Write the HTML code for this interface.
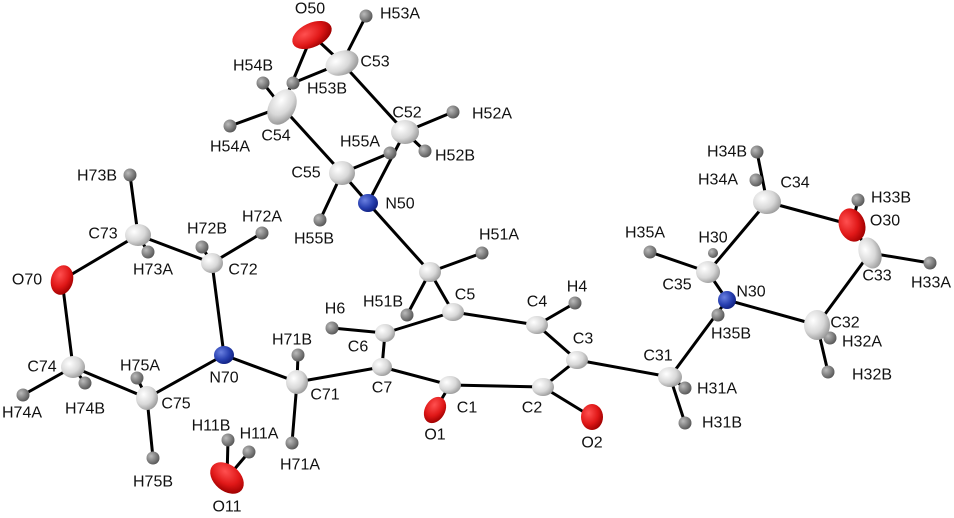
<!DOCTYPE html>
<html><head><meta charset="utf-8"><style>
html,body{margin:0;padding:0;background:#fff;}
svg{display:block;}
text{font-family:"Liberation Sans",sans-serif;font-size:16px;fill:#111;text-anchor:middle;dominant-baseline:central;}
</style></head><body>
<svg width="954" height="518" viewBox="0 0 954 518" xmlns="http://www.w3.org/2000/svg">
<defs>
<radialGradient id="gc" cx="35%" cy="35%" r="70%"><stop offset="0" stop-color="#ffffff"/><stop offset="0.6" stop-color="#d8d8d8"/><stop offset="1" stop-color="#9a9a9a"/></radialGradient>
<radialGradient id="gh" cx="35%" cy="35%" r="70%"><stop offset="0" stop-color="#bbbbbb"/><stop offset="1" stop-color="#555555"/></radialGradient>
<radialGradient id="go" cx="35%" cy="35%" r="70%"><stop offset="0" stop-color="#ff5050"/><stop offset="0.6" stop-color="#e01818"/><stop offset="1" stop-color="#a00000"/></radialGradient>
<radialGradient id="gn" cx="35%" cy="35%" r="70%"><stop offset="0" stop-color="#6a80e0"/><stop offset="0.6" stop-color="#2840b0"/><stop offset="1" stop-color="#102080"/></radialGradient>
</defs>
<g stroke="#000" stroke-width="3" stroke-linecap="round">
<line x1="282" y1="107" x2="312" y2="35"/>
<line x1="312" y1="35" x2="342" y2="63"/>
<line x1="342" y1="63" x2="366" y2="16"/>
<line x1="342" y1="63" x2="293" y2="83"/>
<line x1="282" y1="107" x2="263" y2="83"/>
<line x1="282" y1="107" x2="230" y2="126"/>
<line x1="282" y1="107" x2="342" y2="173"/>
<line x1="342" y1="63" x2="405" y2="132"/>
<line x1="405" y1="132" x2="453" y2="112"/>
<line x1="405" y1="132" x2="425" y2="151"/>
<line x1="405" y1="132" x2="368" y2="203"/>
<line x1="342" y1="173" x2="390" y2="153"/>
<line x1="342" y1="173" x2="368" y2="203"/>
<line x1="342" y1="173" x2="320" y2="220"/>
<line x1="368" y1="203" x2="430" y2="272"/>
<line x1="430" y1="272" x2="482" y2="253"/>
<line x1="430" y1="272" x2="407" y2="315"/>
<line x1="430" y1="272" x2="453" y2="312"/>
<line x1="453" y1="312" x2="385" y2="333"/>
<line x1="453" y1="312" x2="537" y2="325"/>
<line x1="385" y1="333" x2="332" y2="328"/>
<line x1="385" y1="333" x2="382" y2="367"/>
<line x1="382" y1="367" x2="297" y2="382"/>
<line x1="382" y1="367" x2="450" y2="385"/>
<line x1="450" y1="385" x2="435" y2="410"/>
<line x1="450" y1="385" x2="543" y2="387"/>
<line x1="543" y1="387" x2="592" y2="417"/>
<line x1="543" y1="387" x2="577" y2="360"/>
<line x1="577" y1="360" x2="537" y2="325"/>
<line x1="537" y1="325" x2="575" y2="303"/>
<line x1="577" y1="360" x2="670" y2="377"/>
<line x1="670" y1="377" x2="685" y2="388"/>
<line x1="670" y1="377" x2="685" y2="423"/>
<line x1="670" y1="377" x2="727" y2="300"/>
<line x1="727" y1="300" x2="708" y2="272"/>
<line x1="727" y1="300" x2="817" y2="325"/>
<line x1="708" y1="272" x2="650" y2="252"/>
<line x1="708" y1="272" x2="767" y2="202"/>
<line x1="767" y1="202" x2="757" y2="152"/>
<line x1="767" y1="202" x2="852" y2="225"/>
<line x1="852" y1="225" x2="858" y2="200"/>
<line x1="852" y1="225" x2="870" y2="253"/>
<line x1="870" y1="253" x2="930" y2="263"/>
<line x1="870" y1="253" x2="817" y2="325"/>
<line x1="817" y1="325" x2="830" y2="338"/>
<line x1="817" y1="325" x2="828" y2="372"/>
<line x1="297" y1="382" x2="298" y2="355"/>
<line x1="297" y1="382" x2="292" y2="443"/>
<line x1="297" y1="382" x2="224" y2="355"/>
<line x1="224" y1="355" x2="212" y2="263"/>
<line x1="224" y1="355" x2="147" y2="398"/>
<line x1="212" y1="263" x2="138" y2="235"/>
<line x1="212" y1="263" x2="262" y2="233"/>
<line x1="212" y1="263" x2="202" y2="247"/>
<line x1="138" y1="235" x2="130" y2="175"/>
<line x1="138" y1="235" x2="62" y2="280"/>
<line x1="138" y1="235" x2="148" y2="252"/>
<line x1="62" y1="280" x2="73" y2="367"/>
<line x1="73" y1="367" x2="23" y2="395"/>
<line x1="73" y1="367" x2="85" y2="383"/>
<line x1="73" y1="367" x2="147" y2="398"/>
<line x1="147" y1="398" x2="137" y2="378"/>
<line x1="147" y1="398" x2="153" y2="458"/>
<line x1="227" y1="478" x2="228" y2="440"/>
<line x1="227" y1="478" x2="249" y2="452"/>
</g>
<g fill="url(#gh)">
<circle cx="366" cy="16" r="6.5"/><circle cx="293" cy="83" r="6.5"/><circle cx="263" cy="83" r="6.5"/>
<circle cx="230" cy="126" r="6.5"/><circle cx="453" cy="112" r="6.5"/><circle cx="425" cy="151" r="6.5"/>
<circle cx="390" cy="153" r="6.5"/><circle cx="320" cy="220" r="6.5"/><circle cx="482" cy="253" r="6.5"/>
<circle cx="407" cy="315" r="6.5"/><circle cx="332" cy="328" r="6.5"/><circle cx="575" cy="303" r="6.5"/>
<circle cx="685" cy="388" r="6.5"/><circle cx="685" cy="423" r="6.5"/><circle cx="650" cy="252" r="6.5"/>
<circle cx="713" cy="253" r="5"/><circle cx="718" cy="315" r="6.5"/><circle cx="757" cy="152" r="6.5"/>
<circle cx="756" cy="180" r="6.5"/><circle cx="858" cy="200" r="6.5"/><circle cx="930" cy="263" r="6.5"/>
<circle cx="830" cy="338" r="6.5"/><circle cx="828" cy="372" r="6.5"/><circle cx="298" cy="355" r="6.5"/>
<circle cx="292" cy="443" r="6.5"/><circle cx="202" cy="247" r="6.5"/><circle cx="262" cy="233" r="6.5"/>
<circle cx="130" cy="175" r="6.5"/><circle cx="148" cy="252" r="6.5"/><circle cx="23" cy="395" r="6.5"/>
<circle cx="85" cy="383" r="6.5"/><circle cx="137" cy="378" r="6.5"/><circle cx="153" cy="458" r="6.5"/>
<circle cx="228" cy="440" r="6.5"/><circle cx="249" cy="452" r="6.5"/>
</g>
<g fill="url(#gc)">
<ellipse cx="342" cy="63" rx="17" ry="12" transform="rotate(-20 342 63)"/>
<ellipse cx="282" cy="107" rx="13" ry="19" transform="rotate(30 282 107)"/>
<ellipse cx="405" cy="132" rx="14" ry="12"/>
<ellipse cx="342" cy="173" rx="13" ry="12"/>
<ellipse cx="430" cy="272" rx="11" ry="10"/>
<ellipse cx="453" cy="312" rx="11" ry="9"/>
<ellipse cx="385" cy="333" rx="10" ry="9"/>
<ellipse cx="382" cy="367" rx="10" ry="9"/>
<ellipse cx="450" cy="385" rx="11" ry="9"/>
<ellipse cx="543" cy="387" rx="11" ry="9"/>
<ellipse cx="577" cy="360" rx="11" ry="9"/>
<ellipse cx="537" cy="325" rx="11" ry="9"/>
<ellipse cx="670" cy="377" rx="12" ry="10"/>
<ellipse cx="708" cy="272" rx="12" ry="11"/>
<ellipse cx="767" cy="202" rx="14" ry="12"/>
<ellipse cx="870" cy="253" rx="11" ry="16" transform="rotate(-20 870 253)"/>
<ellipse cx="817" cy="325" rx="13" ry="15"/>
<ellipse cx="297" cy="382" rx="11" ry="12"/>
<ellipse cx="212" cy="263" rx="11" ry="10"/>
<ellipse cx="138" cy="235" rx="13" ry="11"/>
<ellipse cx="73" cy="367" rx="12" ry="11"/>
<ellipse cx="147" cy="398" rx="11" ry="12"/>
</g>
<g fill="url(#gn)">
<ellipse cx="368" cy="203" rx="10" ry="9"/>
<ellipse cx="224" cy="355" rx="10" ry="9"/>
<ellipse cx="727" cy="300" rx="9" ry="9"/>
</g>
<g fill="url(#go)">
<ellipse cx="312" cy="35" rx="21" ry="12" transform="rotate(-25 312 35)"/>
<ellipse cx="62" cy="280" rx="11" ry="15" transform="rotate(15 62 280)"/>
<ellipse cx="435" cy="410" rx="10" ry="14" transform="rotate(30 435 410)"/>
<ellipse cx="592" cy="417" rx="11" ry="13"/>
<ellipse cx="852" cy="225" rx="13" ry="17" transform="rotate(-20 852 225)"/>
<ellipse cx="227" cy="478" rx="19" ry="13" transform="rotate(40 227 478)"/>
</g>
<g>
<text x="310" y="9">O50</text><text x="400" y="14">H53A</text><text x="375" y="62">C53</text>
<text x="253" y="66">H54B</text><text x="327" y="89">H53B</text><text x="276" y="136">C54</text>
<text x="230" y="147">H54A</text><text x="407" y="113">C52</text><text x="492" y="114">H52A</text>
<text x="455" y="156">H52B</text><text x="360" y="142">H55A</text><text x="306" y="173">C55</text>
<text x="400" y="204">N50</text><text x="314" y="239">H55B</text><text x="97" y="176">H73B</text>
<text x="103" y="234">C73</text><text x="207" y="229">H72B</text><text x="262" y="217">H72A</text>
<text x="27" y="280">O70</text><text x="153" y="270">H73A</text><text x="243" y="270">C72</text>
<text x="335" y="309">H6</text><text x="383" y="302">H51B</text><text x="465" y="295">C5</text>
<text x="292" y="340">H71B</text><text x="358" y="347">C6</text><text x="42" y="367">C74</text>
<text x="140" y="366">H75A</text><text x="224" y="378">N70</text><text x="325" y="395">C71</text>
<text x="382" y="388">C7</text><text x="467" y="408">C1</text><text x="22" y="413">H74A</text>
<text x="85" y="409">H74B</text><text x="176" y="404">C75</text><text x="211" y="426">H11B</text>
<text x="259" y="434">H11A</text><text x="435" y="435">O1</text><text x="300" y="465">H71A</text>
<text x="153" y="482">H75B</text><text x="227" y="507">O11</text>
<text x="727" y="152">H34B</text><text x="718" y="180">H34A</text><text x="795" y="183">C34</text>
<text x="891" y="198">H33B</text><text x="885" y="221">O30</text><text x="499" y="235">H51A</text>
<text x="645" y="233">H35A</text><text x="713" y="238">H30</text><text x="877" y="276">C33</text>
<text x="931" y="283">H33A</text><text x="677" y="285">C35</text><text x="751" y="292">N30</text>
<text x="577" y="287">H4</text><text x="537" y="302">C4</text><text x="845" y="323">C32</text>
<text x="731" y="334">H35B</text><text x="583" y="339">C3</text><text x="862" y="342">H32A</text>
<text x="658" y="356">C31</text><text x="872" y="375">H32B</text><text x="717" y="389">H31A</text>
<text x="532" y="408">C2</text><text x="722" y="423">H31B</text><text x="592" y="443">O2</text>
</g>
</svg>
</body></html>
